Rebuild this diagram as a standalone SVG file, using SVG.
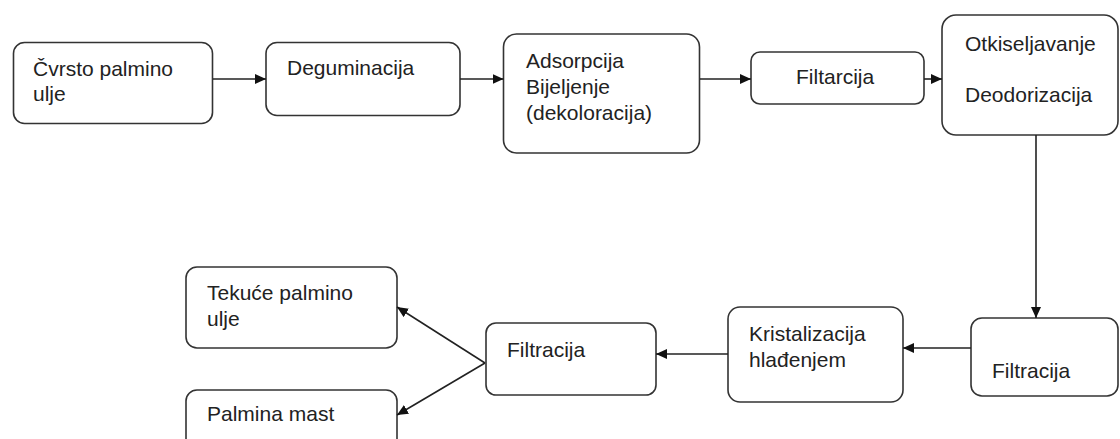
<svg xmlns="http://www.w3.org/2000/svg" width="1120" height="439" viewBox="0 0 1120 439">
<defs>
<marker id="ah" markerWidth="11" markerHeight="10" refX="11" refY="5" orient="auto" markerUnits="userSpaceOnUse"><path d="M0,0 L11,5 L0,10 Z" fill="#111"/></marker>
<style>
.box{fill:#fff;stroke:#333;stroke-width:1.6}
.t{font-family:"Liberation Sans",Arial,sans-serif;font-size:21px;fill:#222}
.c{stroke:#222;stroke-width:1.6;fill:none;marker-end:url(#ah)}
</style>
</defs>
<rect width="1120" height="439" fill="#fff"/>
<g id="n1"><rect class="box" x="13.5" y="42.5" width="199" height="81" rx="11"/><text class="t" x="33" y="76">Čvrsto palmino</text><text class="t" x="33" y="101">ulje</text></g>
<g id="n2"><rect class="box" x="266" y="42.5" width="194" height="73" rx="11"/><text class="t" x="287" y="75">Deguminacija</text></g>
<g id="n3"><rect class="box" x="503.5" y="34" width="196" height="119" rx="13"/><text class="t" x="526" y="68">Adsorpcija</text><text class="t" x="526" y="94">Bijeljenje</text><text class="t" x="526" y="120">(dekoloracija)</text></g>
<g id="n4"><rect class="box" x="751" y="52" width="173" height="52" rx="9"/><text class="t" x="796" y="84">Filtarcija</text></g>
<g id="n5"><rect class="box" x="942" y="15" width="176" height="120" rx="14"/><text class="t" x="965" y="51">Otkiseljavanje</text><text class="t" x="965" y="102">Deodorizacija</text></g>
<g id="n6"><rect class="box" x="971" y="318" width="147" height="78" rx="11"/><text class="t" x="992" y="378">Filtracija</text></g>
<g id="n7"><rect class="box" x="728" y="307" width="175" height="95" rx="12"/><text class="t" x="749" y="341">Kristalizacija</text><text class="t" x="749" y="367">hlađenjem</text></g>
<g id="n8"><rect class="box" x="486" y="323" width="170" height="72" rx="10"/><text class="t" x="507" y="357">Filtracija</text></g>
<g id="n9"><rect class="box" x="186" y="267" width="211" height="81" rx="11"/><text class="t" x="207" y="300">Tekuće palmino</text><text class="t" x="207" y="326">ulje</text></g>
<g id="n10"><rect class="box" x="186" y="390" width="211" height="70" rx="11"/><text class="t" x="207" y="421">Palmina mast</text></g>
<g id="connectors">
<line class="c" x1="213" y1="79" x2="266" y2="79"/>
<line class="c" x1="460" y1="79" x2="503.5" y2="79"/>
<line class="c" x1="700" y1="79" x2="751" y2="79"/>
<line class="c" x1="924" y1="79" x2="942" y2="79"/>
<line class="c" x1="1036" y1="135" x2="1036" y2="318"/>
<line class="c" x1="971" y1="348" x2="903" y2="348"/>
<line class="c" x1="728" y1="354" x2="656" y2="354"/>
<line class="c" x1="485" y1="363" x2="397" y2="307"/>
<line class="c" x1="485" y1="363" x2="397" y2="415"/>
</g>
</svg>
